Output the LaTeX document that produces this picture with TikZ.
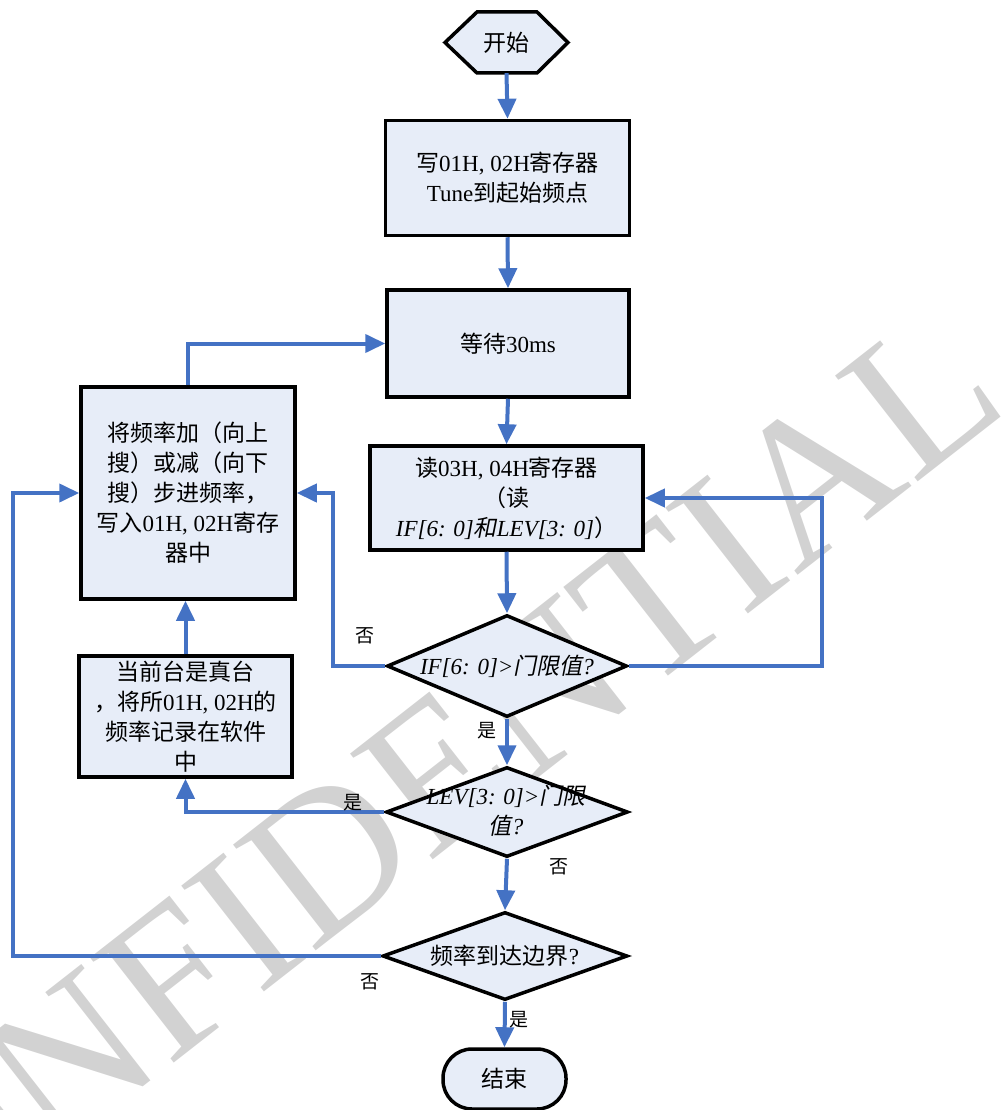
\documentclass[tikz,border=0pt]{standalone}
\usepackage{fontspec}
\setmainfont{Liberation Serif}
\newfontfamily\cjk{Noto Sans CJK SC}
\newfontfamily\cjkit[FakeSlant=0.2]{Noto Sans CJK SC}
\usetikzlibrary{arrows.meta,shapes.geometric,calc}
\definecolor{boxfill}{RGB}{231,237,248}
\definecolor{linkblue}{RGB}{68,114,196}
\definecolor{wmgray}{RGB}{210,210,210}
\newcommand\zh[1]{{\cjk #1}}
\newcommand\zhi[1]{{\cjkit #1}}
\tikzset{
  box/.style={draw=black, line width=3.5pt, fill=boxfill, rectangle, inner sep=0pt, align=center, font=\fontsize{23}{30}\selectfont},
  dia/.style={diamond, draw=black, line width=3.5pt, fill=boxfill, inner sep=0pt},
  dtext/.style={align=center, inner sep=0pt, font=\fontsize{23}{30}\selectfont},
  arr/.style={draw=linkblue, line width=4pt, -{Triangle[length=20pt,width=18pt]}},
  lab/.style={font=\fontsize{19}{19}\selectfont\cjk, inner sep=0pt},
  hexshape/.style={draw=black, line width=3.5pt, fill=boxfill, line join=miter}
}
\begin{document}
\begin{tikzpicture}[x=1pt,y=-1pt]
\useasboundingbox (0,0) rectangle (1008,1110);
% watermark
\node[rotate=38, anchor=base east, font=\fontsize{205}{205}\selectfont, text=wmgray, inner sep=0pt] (wm) at (1012,408) {CONFIDENTIAL};
% start
\path[hexshape] (445,42.5) -- (477,12) -- (537,12) -- (568,42.5) -- (537,73) -- (477,73) -- cycle;
\node[minimum width=123pt, minimum height=61pt, inner sep=0pt, font=\fontsize{23}{30}\selectfont] (start) at (506.5,42.5) {\zh{开始}};
% boxes
\node[box, minimum width=244pt, minimum height=115pt] (b1) at (507.5,178) {\zh{写}01H, 02H\zh{寄存器}\\Tune\zh{到起始频点}};
\node[box, minimum width=242pt, minimum height=107pt] (b2) at (508,343.5) {\zh{等待}30ms};
\node[box, minimum width=273pt, minimum height=104pt] (b3) at (506.5,498) {\zh{读}03H, 04H\zh{寄存器}\\\zh{（读}\\\textit{IF[6: 0]}\zhi{和}\textit{LEV[3: 0]}\zh{）}};
\node[box, minimum width=214pt, minimum height=212pt] (L1) at (188,493) {\zh{将频率加（向上}\\\zh{搜）或减（向下}\\\zh{搜）步进频率，}\\\zh{写入}01H, 02H\zh{寄存}\\\zh{器中}};
\node[box, minimum width=213pt, minimum height=121pt] (L2) at (185.5,716.5) {\zh{当前台是真台}\\\zh{，将所}01H, 02H\zh{的}\\\zh{频率记录在软件}\\\zh{中}};
% diamonds
\node[dia, minimum width=240pt, minimum height=102pt] (d1) at (507,666) {};
\node[dtext] (t1) at (d1) {\textit{IF[6: 0]>}\zhi{门限值}\textit{?}};
\node[dia, minimum width=242pt, minimum height=90pt] (d2) at (507,812) {};
\node[dtext] (t2) at (506,811) {\textit{LEV[3: 0]>}\zhi{门限}\\\zhi{值}\textit{?}};
\node[dia, minimum width=245pt, minimum height=88pt] (d3) at (505,956) {};
\node[dtext] (t3) at (d3) {\zh{频率到达边界}?};
% end
\node[draw=black, line width=3.5pt, fill=boxfill, rounded corners=29pt, minimum width=123pt, minimum height=60pt, inner sep=0pt, font=\fontsize{23}{30}\selectfont] (stop) at (504.5,1079) {\zh{结束}};
% connectors
\draw[arr] (start.south) -- (b1.north);
\draw[arr] (b1.south) -- (b2.north);
\draw[arr] (b2.south) -- (b3.north);
\draw[arr] (b3.south) -- (d1.north);
\draw[arr] (d1.east) -- (822,666) |- (b3.east);
\draw[arr] (d1.west) -- (333,666) |- (L1.east);
\draw[arr] (L1.north) |- (b2.west);
\draw[arr] (d1.south) -- (d2.north);
\draw[arr] (d2.west) -| (L2.south);
\draw[arr] (L2.north) -- (L2.north |- L1.south);
\draw[arr] (d2.south) -- (d3.north);
\draw[arr] (d3.west) -- (13,956) |- (L1.west);
\draw[arr] (d3.south) -- (stop.north);
% labels
\node[lab] (n1) at (365,636) {否};
\node[lab] (n2) at (487,731) {是};
\node[lab] (n3) at (353,803) {是};
\node[lab] (n4) at (559,867) {否};
\node[lab] (n5) at (370,982) {否};
\node[lab] (n6) at (519,1020) {是};
\end{tikzpicture}
\end{document}
